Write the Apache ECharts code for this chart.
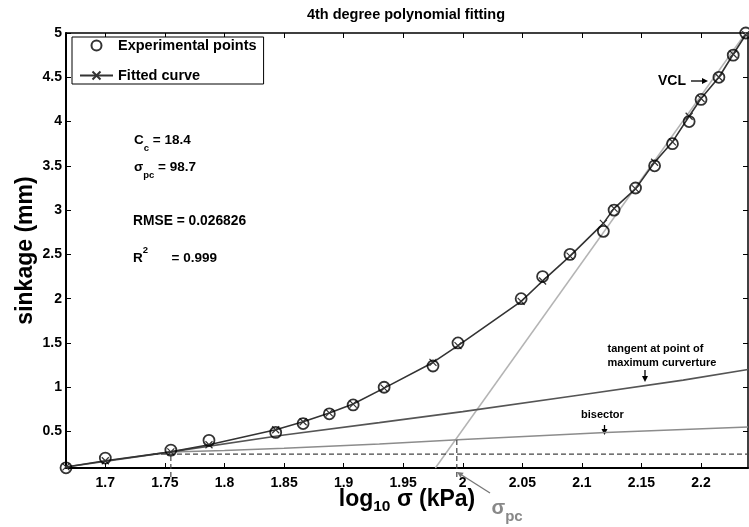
<!DOCTYPE html>
<html>
<head>
<meta charset="utf-8">
<script src="https://cdn.jsdelivr.net/npm/echarts@6/dist/echarts.min.js"></script>
<style>
  html, body { margin: 0; padding: 0; background: #fff; }
  #chart { width: 749px; height: 527px; }
</style>
</head>
<body>
<div id="chart"></div>
<script>
// measured points (log10 sigma, sinkage)
const logSigma = [1.667, 1.700, 1.755, 1.787, 1.843, 1.866, 1.888, 1.908, 1.934, 1.975, 1.996, 2.049,
  2.067, 2.090, 2.118, 2.127, 2.145, 2.161, 2.176, 2.190, 2.200, 2.215, 2.227, 2.2375];
const sinkageExp = [0.09, 0.20, 0.29, 0.40, 0.49, 0.59, 0.70, 0.80, 1.00, 1.24, 1.50, 2.00,
  2.25, 2.50, 2.76, 3.00, 3.25, 3.50, 3.75, 4.00, 4.25, 4.50, 4.75, 5.00];
const sinkageFit = [0.10, 0.17, 0.27, 0.35, 0.52, 0.61, 0.71, 0.81, 0.99, 1.28, 1.47, 1.97,
  2.20, 2.48, 2.85, 3.02, 3.24, 3.54, 3.77, 4.06, 4.26, 4.50, 4.76, 4.98];

// construction lines
const vclX = [1.977, 2.2375];
const vclY = [0.088, 5.0];
const tangentX = [1.667, 1.755, 1.85, 1.93, 2.0, 2.1, 2.185, 2.2394];
const tangentY = [0.10, 0.27, 0.46, 0.60, 0.725, 0.915, 1.08, 1.20];
const bisectorX = [1.755, 1.80, 1.85, 1.93, 2.0, 2.12, 2.2394];
const bisectorY = [0.27, 0.285, 0.31, 0.36, 0.41, 0.49, 0.55];
const horizX = [1.74, 2.2394];
const horizY = [0.245, 0.245];
const maxCurvX = [1.755, 1.755];
const maxCurvY = [-0.014, 0.245];
const pcX = [1.995, 1.995];
const pcY = [-0.014, 0.41];

const xTicks = [1.7, 1.75, 1.8, 1.85, 1.9, 1.95, 2, 2.05, 2.1, 2.15, 2.2];
const yTicks = [0.5, 1, 1.5, 2, 2.5, 3, 3.5, 4, 4.5, 5];
const X_MIN = 1.667, X_MAX = 2.2394;
const Y_MIN = 0.088, Y_MAX = 5;

const FONT = '"Liberation Sans", Arial, Helvetica, sans-serif';

function pairs(xs, ys) {
  return xs.map((x, i) => [x, ys[i]]);
}

function lineSeries(name, xs, ys, color, width, type) {
  return {
    name: name,
    type: 'line',
    data: pairs(xs, ys),
    showSymbol: false,
    clip: false,
    silent: true,
    z: 1,
    lineStyle: { color: color, width: width, type: type || 'solid' }
  };
}

// arrow: shaft + filled head, pixel coords
function arrow(x1, y1, x2, y2, color) {
  const a = Math.atan2(y2 - y1, x2 - x1);
  const L = 6, W = 3;
  const bx = x2 - L * Math.cos(a), by = y2 - L * Math.sin(a);
  const px = -Math.sin(a) * W, py = Math.cos(a) * W;
  return [
    { type: 'line', shape: { x1: x1, y1: y1, x2: bx, y2: by }, style: { stroke: color, lineWidth: 1.3 } },
    { type: 'polygon', shape: { points: [[x2, y2], [bx + px, by + py], [bx - px, by - py]] }, style: { fill: color } }
  ];
}

function label(x, y, text, size, color, rich) {
  return {
    type: 'text', x: x, y: y,
    style: {
      text: text,
      fill: color || '#000',
      font: 'bold ' + size + 'px ' + FONT,
      align: 'left', verticalAlign: 'middle',
      textAlign: 'left', textVerticalAlign: 'middle',
      rich: rich
    }
  };
}

const subRich = {
  a: { fontSize: 13.5, fontWeight: 'bold', fontFamily: FONT, lineHeight: 26, fill: '#000' },
  s: { fontSize: 9.5, fontWeight: 'bold', fontFamily: FONT, lineHeight: 12, verticalAlign: 'bottom', fill: '#000' }
};
const supRich = {
  a: { fontSize: 13.5, fontWeight: 'bold', fontFamily: FONT, lineHeight: 26, fill: '#000' },
  s: { fontSize: 9.5, fontWeight: 'bold', fontFamily: FONT, lineHeight: 12, verticalAlign: 'top', fill: '#000' }
};
const pcRich = {
  a: { fontSize: 20, fontWeight: 'bold', fontFamily: FONT, lineHeight: 32, fill: '#888' },
  s: { fontSize: 15, fontWeight: 'bold', fontFamily: FONT, lineHeight: 8, verticalAlign: 'bottom', fill: '#888' }
};

const chart = echarts.init(document.getElementById('chart'));

const baseX = {
  type: 'value', min: X_MIN, max: X_MAX,
  splitLine: { show: false },
  axisLine: { show: true, onZero: false, lineStyle: { color: '#000', width: 2 } },
  axisTick: { show: true, inside: true, length: 5, customValues: xTicks, lineStyle: { color: '#000', width: 1 } }
};
const baseY = {
  type: 'value', min: Y_MIN, max: Y_MAX,
  splitLine: { show: false },
  axisLine: { show: true, onZero: false, lineStyle: { color: '#000', width: 2 } },
  axisTick: { show: true, inside: true, length: 5, customValues: yTicks, lineStyle: { color: '#000', width: 1 } }
};

const option = {
  animation: false,
  backgroundColor: '#fff',
  grid: { left: 66, right: 1, top: 33, bottom: 59, containLabel: false },
  legend: {
    orient: 'vertical', left: 72, top: 37,
    data: ['Experimental points', 'Fitted curve'],
    backgroundColor: '#fff', borderColor: '#000', borderWidth: 1, borderRadius: 0,
    padding: [1, 7, 1, 7],
    itemWidth: 33, itemHeight: 10, itemGap: 15,
    selectedMode: false,
    textStyle: { fontFamily: FONT, fontWeight: 'bold', fontSize: 14.5, color: '#000' }
  },
  xAxis: [
    Object.assign({}, baseX, {
      position: 'bottom',
      axisLabel: { customValues: xTicks, color: '#000', fontFamily: FONT, fontWeight: 'bold', fontSize: 14, margin: 8 },
      name: '{a|log}{s|10}{a| σ (kPa)}',
      nameLocation: 'middle', nameGap: 17, nameMoveOverlap: false,
      nameTextStyle: {
        rich: {
          a: { fontSize: 23, fontWeight: 'bold', fontFamily: FONT, lineHeight: 30, color: '#000' },
          s: { fontSize: 15.5, fontWeight: 'bold', fontFamily: FONT, lineHeight: 16, verticalAlign: 'bottom', color: '#000' }
        }
      }
    }),
    Object.assign({}, baseX, {
      position: 'top',
      axisLine: { show: true, onZero: false, lineStyle: { color: '#000', width: 1.5 } },
      axisLabel: { show: false }
    })
  ],
  yAxis: [
    Object.assign({}, baseY, {
      position: 'left',
      axisLabel: { customValues: yTicks, color: '#000', fontFamily: FONT, fontWeight: 'bold', fontSize: 14, margin: 4 },
      name: 'sinkage (mm)',
      nameLocation: 'middle', nameGap: 29, nameMoveOverlap: false,
      nameTextStyle: { fontSize: 23, fontWeight: 'bold', fontFamily: FONT, color: '#000' }
    }),
    Object.assign({}, baseY, {
      position: 'right',
      axisLine: { show: true, onZero: false, lineStyle: { color: '#000', width: 1.5 } },
      axisLabel: { show: false }
    })
  ],
  series: [
    lineSeries('VCL', vclX, vclY, '#b4b4b4', 1.5),
    lineSeries('bisector', bisectorX, bisectorY, '#8c8c8c', 1.5),
    lineSeries('tangent', tangentX, tangentY, '#555555', 1.6),
    lineSeries('horiz', horizX, horizY, '#444444', 1.2, [5, 3]),
    lineSeries('maxcurv', maxCurvX, maxCurvY, '#444444', 1.2, [5, 3]),
    lineSeries('pc', pcX, pcY, '#444444', 1.2, [5, 3]),
    {
      name: 'Fitted curve',
      type: 'line',
      data: pairs(logSigma, sinkageFit),
      symbol: 'path://M0 0L10 10M10 0L0 10',
      symbolSize: 7,
      showSymbol: true,
      silent: true,
      z: 3,
      lineStyle: { color: '#333333', width: 1.6 },
      itemStyle: { color: '#333333', borderColor: '#333333', borderWidth: 1.2 }
    },
    {
      name: 'Experimental points',
      type: 'scatter',
      data: pairs(logSigma, sinkageExp),
      symbol: 'circle',
      symbolSize: 11,
      silent: true,
      z: 4,
      itemStyle: { color: 'rgba(255,255,255,0)', borderColor: '#000', borderWidth: 1.8 }
    }
  ],
  graphic: [
    {
      type: 'text', x: 406, y: 15,
      style: {
        text: '4th degree polynomial fitting', fill: '#000',
        font: 'bold 14.5px ' + FONT,
        align: 'center', verticalAlign: 'middle', textAlign: 'center', textVerticalAlign: 'middle'
      }
    },
    label(134, 140, '{a|C}{s|c}{a| = 18.4}', 13.5, '#000', subRich),
    label(134, 167.5, '{a|σ}{s|pc}{a| = 98.7}', 13.5, '#000', subRich),
    label(133, 221, 'RMSE = 0.026826', 13.8, '#000'),
    label(133, 258, '{a|R}{s|2}', 13.5, '#000', supRich),
    label(171.5, 258, '= 0.999', 13.5, '#000'),
    label(658, 81, 'VCL', 14, '#000'),
    label(607.5, 349, 'tangent at point of', 11, '#000'),
    label(607.5, 363, 'maximum curverture', 11, '#000'),
    label(581, 415, 'bisector', 11, '#000'),
    label(491.5, 508, '{a|σ}{s|pc}', 20, '#888', pcRich)
  ]
    .concat(arrow(691, 81, 708, 81, '#000'))
    .concat(arrow(645, 370, 645, 382, '#000'))
    .concat(arrow(604.5, 425, 604.5, 435, '#000'))
    .concat(arrow(490, 493, 457, 472, '#777'))
};

chart.setOption(option);
</script>
</body>
</html>
